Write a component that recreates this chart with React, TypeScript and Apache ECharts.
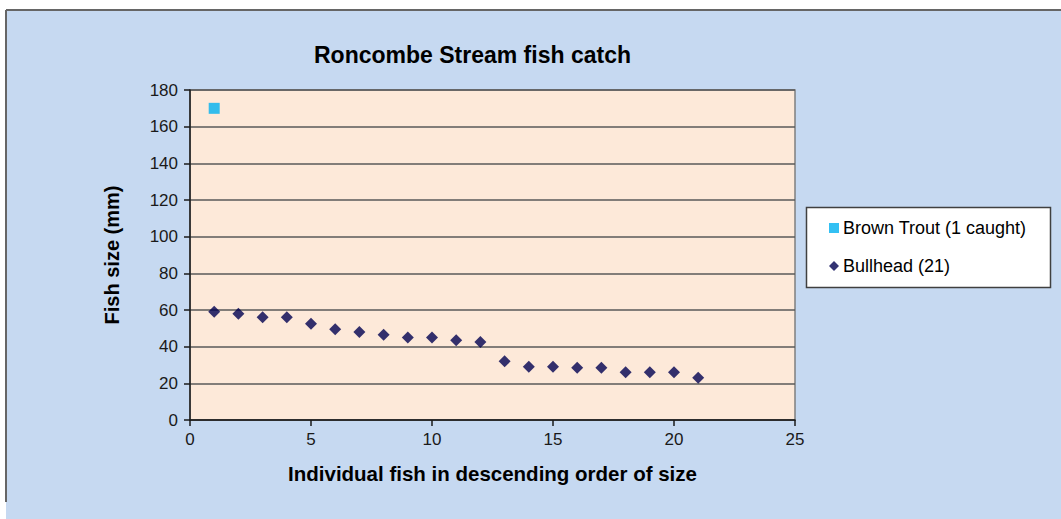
import React, { useEffect, useRef } from "react";
import * as echarts from "echarts";

const titleText = "Roncombe Stream fish catch";
const xAxisName = "Individual fish in descending order of size";
const yAxisName = "Fish size (mm)";

const troutName = "Brown Trout (1 caught)";
const troutIndex = [1];
const troutSize = [170];

const bullheadName = "Bullhead (21)";
const bullheadIndex = [1, 2, 3, 4, 5, 6, 7, 8, 9, 10, 11, 12, 13, 14, 15, 16, 17, 18, 19, 20, 21];
const bullheadSize = [59, 58, 56, 56, 52.5, 49.5, 48, 46.5, 45, 45, 43.5, 42.5, 32, 29, 29, 28.5, 28.5, 26, 26, 26, 23];

const FONT = "'Liberation Sans', Arial, sans-serif";

export default function App() {
  const ref = useRef<HTMLDivElement>(null);

  useEffect(() => {
    if (!ref.current) return;
    const chart = echarts.init(ref.current, undefined, { renderer: "svg" });
    const option = {
      animation: false,
      backgroundColor: "#ffffff",
      textStyle: { fontFamily: FONT },
      title: {
        text: titleText,
        left: 314,
        top: 43,
        padding: 0,
        textStyle: { fontSize: 23, fontWeight: "bold", color: "#000000", fontFamily: FONT },
      },
      graphic: [
        {
          type: "rect",
          z: -100,
          silent: true,
          shape: { x: 6, y: 10, width: 1060, height: 515 },
          style: { fill: "#C6D9F1" },
        },
        {
          type: "line",
          z: -99,
          silent: true,
          shape: { x1: 6, y1: 10, x2: 1061, y2: 10 },
          style: { stroke: "#666666", lineWidth: 2 },
        },
        {
          type: "line",
          z: -99,
          silent: true,
          shape: { x1: 6, y1: 10, x2: 6, y2: 502 },
          style: { stroke: "#666666", lineWidth: 2 },
        },
        {
          type: "rect",
          z: -50,
          silent: true,
          shape: { x: 806.5, y: 207.5, width: 244, height: 80 },
          style: { fill: "#ffffff", stroke: "#404040", lineWidth: 1.5 },
        },
      ],
      legend: {
        orient: "vertical",
        left: 829,
        top: 219,
        padding: 0,
        itemWidth: 10,
        itemHeight: 10,
        itemGap: 20,
        textStyle: { fontSize: 18, lineHeight: 18, color: "#000000", fontFamily: FONT, padding: [0, 0, 0, -1] },
        data: [
          { name: troutName, icon: "rect" },
          { name: bullheadName, icon: "diamond" },
        ],
      },
      grid: {
        left: 190,
        top: 90,
        width: 605,
        height: 330,
        show: true,
        backgroundColor: "#FDE9D9",
        borderColor: "#7f7f7f",
        borderWidth: 1.5,
      },
      xAxis: {
        type: "value",
        min: 0,
        max: 25,
        interval: 5,
        name: xAxisName,
        nameLocation: "middle",
        nameGap: 43,
        nameTextStyle: { fontSize: 20.5, fontWeight: "bold", color: "#000000", fontFamily: FONT },
        axisLine: { show: true, onZero: false, lineStyle: { color: "#1a1a1a", width: 1.5 } },
        axisTick: { show: true, inside: false, length: 6, lineStyle: { color: "#1a1a1a", width: 1.5 } },
        axisLabel: { fontSize: 17, color: "#1a1a1a", margin: 11, fontFamily: FONT },
        splitLine: { show: false },
      },
      yAxis: {
        type: "value",
        min: 0,
        max: 180,
        interval: 20,
        name: yAxisName,
        nameLocation: "middle",
        nameGap: 68,
        nameRotate: 90,
        nameTextStyle: { fontSize: 20, fontWeight: "bold", color: "#000000", fontFamily: FONT },
        axisLine: { show: true, onZero: false, lineStyle: { color: "#1a1a1a", width: 1.5 } },
        axisTick: { show: true, inside: false, length: 6, lineStyle: { color: "#1a1a1a", width: 1.5 } },
        axisLabel: { fontSize: 17, color: "#1a1a1a", margin: 12, fontFamily: FONT },
        splitLine: { show: true, lineStyle: { color: "#595959", width: 1.5 } },
      },
      series: [
        {
          name: troutName,
          type: "scatter",
          symbol: "rect",
          symbolSize: 11,
          itemStyle: { color: "#00B0F0" },
          data: troutIndex.map((x, i) => [x, troutSize[i]]),
        },
        {
          name: bullheadName,
          type: "scatter",
          symbol: "diamond",
          symbolSize: 12,
          itemStyle: { color: "#000050" },
          data: bullheadIndex.map((x, i) => [x, bullheadSize[i]]),
        },
      ],
    };
    chart.setOption(option as any);
    return () => chart.dispose();
  }, []);

  return (
    <div
      ref={ref}
      style={{ position: "fixed", left: 0, top: 0, width: 1061, height: 519 }}
    />
  );
}
